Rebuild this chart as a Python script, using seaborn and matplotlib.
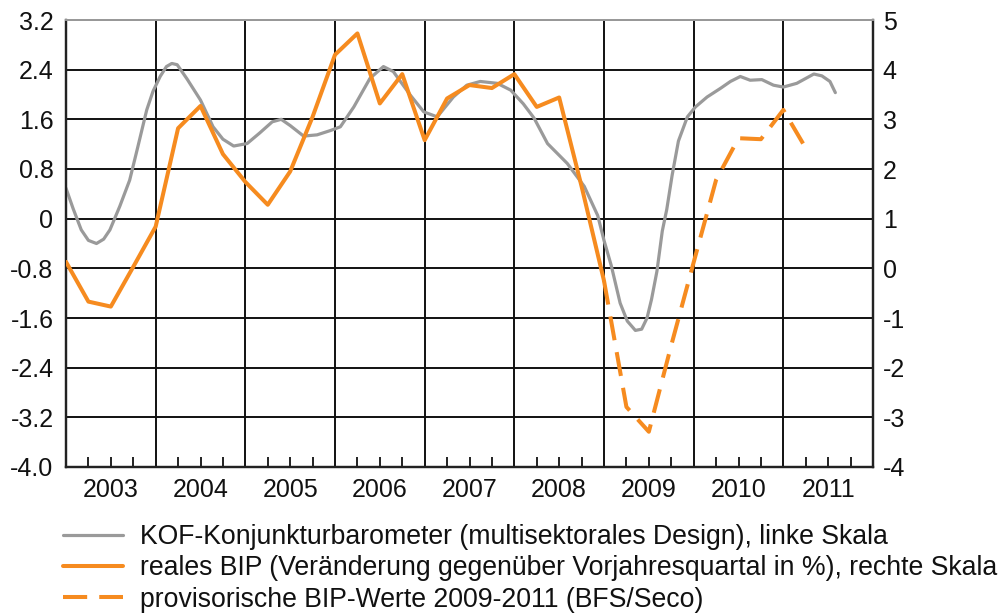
import matplotlib
matplotlib.use("Agg")
import matplotlib.pyplot as plt
import seaborn as sns
import numpy as np
import pandas as pd
from matplotlib.lines import Line2D
from matplotlib.ticker import FixedLocator, NullFormatter

# ---- data ----
kof_t = [2003.00, 2003.08, 2003.17, 2003.25, 2003.34, 2003.42, 2003.49, 2003.60, 2003.71, 2003.80,
         2003.90, 2003.97, 2004.05, 2004.12, 2004.18, 2004.24, 2004.35, 2004.50, 2004.64, 2004.75,
         2004.87, 2005.02, 2005.16, 2005.30, 2005.40, 2005.50, 2005.65, 2005.80, 2005.95, 2006.06,
         2006.21, 2006.39, 2006.54, 2006.65, 2006.84, 2006.99, 2007.14, 2007.32, 2007.47, 2007.62,
         2007.81, 2007.96, 2008.10, 2008.22, 2008.37, 2008.59, 2008.78, 2008.93, 2009.00, 2009.08,
         2009.18, 2009.26, 2009.35, 2009.42, 2009.48, 2009.53, 2009.59, 2009.65, 2009.70, 2009.76,
         2009.83, 2009.93, 2010.02, 2010.15, 2010.30, 2010.41, 2010.52, 2010.63, 2010.76, 2010.89,
         2011.00, 2011.15, 2011.34, 2011.43, 2011.52, 2011.58]
kof_v = [0.49, 0.16, -0.18, -0.35, -0.40, -0.33, -0.18, 0.20, 0.62, 1.15,
         1.75, 2.05, 2.29, 2.45, 2.50, 2.48, 2.25, 1.91, 1.48, 1.28,
         1.17, 1.21, 1.38, 1.56, 1.60, 1.50, 1.33, 1.35, 1.42, 1.48,
         1.80, 2.26, 2.45, 2.37, 1.99, 1.72, 1.64, 1.96, 2.15, 2.21,
         2.18, 2.07, 1.85, 1.62, 1.21, 0.89, 0.52, 0.05, -0.35, -0.75,
         -1.36, -1.65, -1.80, -1.78, -1.60, -1.30, -0.85, -0.20, 0.15, 0.70,
         1.25, 1.64, 1.80, 1.96, 2.10, 2.21, 2.29, 2.23, 2.24, 2.15,
         2.12, 2.18, 2.33, 2.30, 2.21, 2.03]

bip_t = [2003.00, 2003.25, 2003.50, 2003.75, 2004.00, 2004.25, 2004.50, 2004.75,
         2005.00, 2005.25, 2005.50, 2005.75, 2006.00, 2006.25, 2006.50, 2006.75,
         2007.00, 2007.25, 2007.50, 2007.75, 2008.00, 2008.25, 2008.50, 2008.75, 2009.00]
bip_v = [0.13, -0.67, -0.77, 0.03, 0.84, 2.82, 3.27, 2.30,
         1.74, 1.28, 1.95, 3.05, 4.30, 4.73, 3.32, 3.91,
         2.58, 3.42, 3.69, 3.63, 3.91, 3.25, 3.44, 1.65, -0.25]

prov_t = [2009.00, 2009.25, 2009.50, 2009.75, 2010.00, 2010.25, 2010.50, 2010.75, 2011.00, 2011.25]
prov_v = [-0.25, -2.79, -3.29, -1.55, 0.12, 1.78, 2.62, 2.60, 3.19, 2.42]

years = [2003, 2004, 2005, 2006, 2007, 2008, 2009, 2010, 2011]
left_ticks = [-4.0, -3.2, -2.4, -1.6, -0.8, 0, 0.8, 1.6, 2.4, 3.2]
left_labels = ["-4.0", "-3.2", "-2.4", "-1.6", "-0.8", "0", "0.8", "1.6", "2.4", "3.2"]
right_ticks = [-4, -3, -2, -1, 0, 1, 2, 3, 4, 5]

labels = ["KOF-Konjunkturbarometer (multisektorales Design), linke Skala",
          "reales BIP (Veränderung gegenüber Vorjahresquartal in %), rechte Skala",
          "provisorische BIP-Werte 2009-2011 (BFS/Seco)"]

GRAY = "#9a9a9a"
ORANGE = "#F68B1F"
TICK_FS = 18
LEG_FS = 19.2

sns.set_theme(style="white")
plt.rcParams['font.family'] = ['Liberation Sans', 'DejaVu Sans']

W, H = 1008, 613
fig = plt.figure(figsize=(W / 100, H / 100), dpi=100)
ax = fig.add_axes([66 / W, 1 - 467 / H, (873 - 66) / W, (467 - 20) / H])
ax2 = ax.twinx()

kof_df = pd.DataFrame({"t": kof_t, "v": kof_v})
bip_df = pd.DataFrame({"t": bip_t, "v": bip_v})
prov_df = pd.DataFrame({"t": prov_t, "v": prov_v})

sns.lineplot(data=kof_df, x="t", y="v", ax=ax, color=GRAY, lw=2.3, estimator=None, sort=False, zorder=3)
sns.lineplot(data=bip_df, x="t", y="v", ax=ax2, color=ORANGE, lw=2.9, estimator=None, sort=False, zorder=4)
sns.lineplot(data=prov_df, x="t", y="v", ax=ax2, color=ORANGE, lw=2.9, estimator=None, sort=False,
             linestyle=(0, (6, 3)), zorder=4)

ax.set_xlim(2003, 2012)
ax.set_ylim(-4.0, 3.2)
ax2.set_ylim(-4, 5)
ax.set_xlabel("")
ax.set_ylabel("")
ax2.set_ylabel("")

ax.set_yticks(left_ticks, left_labels)
ax2.set_yticks(right_ticks, [str(v) for v in right_ticks])

bounds = list(range(2003, 2013))
ax.xaxis.set_major_locator(FixedLocator(bounds))
ax.xaxis.set_major_formatter(NullFormatter())
quarters = [y + q for y in years for q in (0.25, 0.5, 0.75)]
ax.xaxis.set_minor_locator(FixedLocator(quarters))
ax.tick_params(axis="x", which="major", direction="out", length=9, width=1.4, color="#222222")
ax.tick_params(axis="x", which="minor", direction="in", length=7, width=1.4, color="#222222", bottom=True)
ax.tick_params(axis="y", length=0, pad=9, labelsize=TICK_FS, labelcolor="#111111")
ax2.tick_params(axis="y", length=0, pad=7, labelsize=TICK_FS, labelcolor="#111111")

sec = ax.secondary_xaxis("bottom")
sec.set_xticks([y + 0.5 for y in years], [str(y) for y in years])
sec.tick_params(length=0, pad=8, labelsize=TICK_FS, labelcolor="#111111")
sec.spines["bottom"].set_visible(False)

ax.set_axisbelow(True)
ax.grid(True, which="major", axis="both", color="#111111", lw=1.4)
ax2.grid(False)

for a in (ax, ax2):
    for s in ("left", "right", "bottom"):
        a.spines[s].set_color("#222222")
        a.spines[s].set_linewidth(1.6)
    a.spines["top"].set_color("#999999")
    a.spines["top"].set_linewidth(1.4)

handles = [Line2D([], [], color=GRAY, lw=2.3),
           Line2D([], [], color=ORANGE, lw=2.9),
           Line2D([], [], color=ORANGE, lw=2.9, linestyle=(0, (6, 3)))]
fig.legend(handles, labels, loc="upper left", bbox_to_anchor=(63 / W, 1 - 524 / H),
           frameon=False, fontsize=LEG_FS, handlelength=2.25, handletextpad=0.63,
           labelspacing=0.2, borderpad=0, borderaxespad=0, labelcolor="#111111")

fig.savefig("out.png", dpi=100)
